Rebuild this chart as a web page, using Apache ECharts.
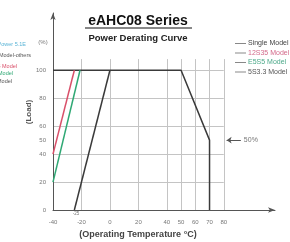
<!DOCTYPE html>
<html>
<head>
<meta charset="utf-8">
<script src="https://cdn.jsdelivr.net/npm/echarts@6/dist/echarts.min.js"></script>
<style>
html, body { margin: 0; padding: 0; background: #fff; }
#chart { width: 290px; height: 242px; }
</style>
</head>
<body>
<div id="chart"></div>
<script>
// tick labels
var xTicks = [-40, -20, 0, 20, 40, 50, 60, 70, 80];
var yTicks = [0, 20, 40, 50, 60, 80, 100];
var xGrid = [-20, 0, 20, 40, 50, 60, 70, 80];
var yGrid = [20, 40, 60, 80, 100];

// curves [temp, load]
var singleModel = [[-40, 100], [50, 100], [70, 50], [70, 0]];
var model12S35 = [[-40, 40], [-25, 100]];
var modelE5S5 = [[-40, 20], [-21, 100]];
var model5S33 = [[-25, 0], [0, 100]];

var chartDom = document.getElementById('chart');
var myChart = echarts.init(chartDom);
var font = 'Liberation Sans';

var gridLines = [];
yGrid.forEach(function (v) {
    gridLines.push([{ coord: [-40, v] }, { coord: [80, v] }]);
});
xGrid.forEach(function (v) {
    gridLines.push([{ coord: [v, 0] }, { coord: [v, 108] }]);
});

function legendItem(name, textColor) {
    return {
        name: name,
        icon: 'rect',
        itemStyle: { color: '#888' },
        textStyle: { color: textColor }
    };
}

var option = {
    animation: false,
    textStyle: { fontFamily: font },
    grid: { left: 53, right: 15, top: 13, bottom: 32 },
    xAxis: {
        type: 'value',
        min: -40,
        max: 116,
        splitLine: { show: false },
        axisTick: { show: false },
        axisLine: { onZero: false, lineStyle: { color: '#555', width: 1 }, symbol: ['none', 'arrow'], symbolSize: [4, 7] },
        axisLabel: { customValues: xTicks, color: '#777', fontSize: 6, margin: 9 }
    },
    yAxis: {
        type: 'value',
        min: 0,
        max: 141,
        splitLine: { show: false },
        axisTick: { show: false },
        axisLine: { show: true, onZero: false, lineStyle: { color: '#555', width: 1 }, symbol: ['none', 'arrow'], symbolSize: [4, 7] },
        axisLabel: { customValues: yTicks, color: '#777', fontSize: 6, margin: 7 }
    },
    legend: {
        orient: 'vertical',
        left: 235,
        top: 40,
        padding: 0,
        itemWidth: 11,
        itemHeight: 1,
        itemGap: 2.5,
        textStyle: { fontSize: 7, padding: [0, 0, 0, -3] },
        data: [
            legendItem('Single Model', '#444'),
            legendItem('12S35 Model', '#d36a8a'),
            legendItem('E5S5 Model', '#4aa888'),
            legendItem('5S3.3 Model', '#555')
        ]
    },
    series: [
        {
            type: 'line',
            silent: true,
            z: 0,
            data: [],
            markLine: {
                silent: true,
                z: 0,
                symbol: 'none',
                label: { show: false },
                lineStyle: { color: '#c4c4c4', width: 1, type: 'solid' },
                data: gridLines
            }
        },
        {
            type: 'line',
            silent: true,
            data: [],
            markLine: {
                silent: true,
                symbol: ['arrow', 'none'],
                symbolSize: 5,
                lineStyle: { color: '#555', width: 1, type: 'solid' },
                label: { show: true, position: 'end', formatter: '50%', color: '#777', fontSize: 7, distance: 3 },
                data: [[{ coord: [82, 50] }, { coord: [92, 50] }]]
            }
        },
        {
            name: 'Single Model',
            type: 'line',
            z: 6,
            symbol: 'none',
            lineStyle: { color: '#3a3a3a', width: 1.5 },
            itemStyle: { color: '#3a3a3a' },
            data: singleModel
        },
        {
            name: '12S35 Model',
            type: 'line',
            z: 6,
            symbol: 'none',
            lineStyle: { color: '#d9506a', width: 1.5 },
            itemStyle: { color: '#d9506a' },
            data: model12S35
        },
        {
            name: 'E5S5 Model',
            type: 'line',
            z: 6,
            symbol: 'none',
            lineStyle: { color: '#2fa874', width: 1.5 },
            itemStyle: { color: '#2fa874' },
            data: modelE5S5
        },
        {
            name: '5S3.3 Model',
            type: 'line',
            z: 6,
            symbol: 'none',
            lineStyle: { color: '#3a3a3a', width: 1.5 },
            itemStyle: { color: '#3a3a3a' },
            data: model5S33
        }
    ],
    graphic: [
        { type: 'text', style: { text: 'eAHC08 Series', x: 138, y: 21, align: 'center', verticalAlign: 'middle', font: 'bold 14px Liberation Sans', fill: '#111' } },
        { type: 'line', shape: { x1: 85, y1: 28, x2: 192, y2: 28 }, style: { stroke: '#111', lineWidth: 1 } },
        { type: 'text', style: { text: 'Power Derating Curve', x: 138, y: 38, align: 'center', verticalAlign: 'middle', font: 'bold 9.5px Liberation Sans', fill: '#222' } },
        { type: 'text', style: { text: '(%)', x: 43, y: 42, align: 'center', verticalAlign: 'middle', font: '6px Liberation Sans', fill: '#777' } },
        { type: 'text', x: 29, y: 112, rotation: Math.PI / 2, style: { text: '(Load)', x: 0, y: 0, align: 'center', verticalAlign: 'middle', font: 'bold 8px Liberation Sans', fill: '#555' } },
        { type: 'text', style: { text: '(Operating Temperature \u00b0C)', x: 138, y: 235, align: 'center', verticalAlign: 'middle', font: 'bold 9px Liberation Sans', fill: '#444' } },
        { type: 'text', style: { text: '-25', x: 76, y: 214, align: 'center', verticalAlign: 'middle', font: '4.5px Liberation Sans', fill: '#777' } },
        { type: 'text', style: { text: 'Dual Power 5.1E', x: 26, y: 44, align: 'right', verticalAlign: 'middle', font: '5.5px Liberation Sans', fill: '#5ab4d6' } },
        { type: 'text', style: { text: 'Single Model-others', x: 31, y: 55, align: 'right', verticalAlign: 'middle', font: '5.5px Liberation Sans', fill: '#555' } },
        { type: 'text', style: { text: '12S35 Model', x: 17, y: 66, align: 'right', verticalAlign: 'middle', font: '5.5px Liberation Sans', fill: '#d9506a' } },
        { type: 'text', style: { text: 'E5S5 Model', x: 13, y: 73, align: 'right', verticalAlign: 'middle', font: '5.5px Liberation Sans', fill: '#2fa874' } },
        { type: 'text', style: { text: '5S3.3 Model', x: 12, y: 81, align: 'right', verticalAlign: 'middle', font: '5.5px Liberation Sans', fill: '#555' } }
    ]
};
option && myChart.setOption(option);
</script>
</body>
</html>
